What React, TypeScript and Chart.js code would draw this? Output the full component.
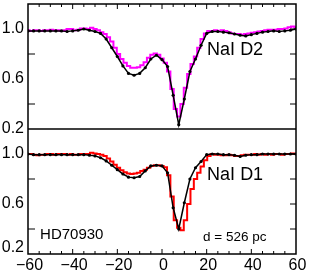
import React, { useEffect, useRef } from 'react';
import { Chart, registerables } from 'chart.js';

Chart.register(...registerables);

const FONT = '"Liberation Sans", Arial, Helvetica, sans-serif';

// Velocity grids (km/s)
const VEL_OBS = Array.from({ length: 81 }, (_, i) => -60 + 1.5 * i);
const VEL_FIT = Array.from({ length: 49 }, (_, i) => -60 + 2.5 * i);

// NaI D2 (top panel)
const D2_OBS = [
  0.99, 0.985, 0.99, 0.99, 0.985, 0.99, 0.99, 0.995, 0.99, 0.99,
  0.985, 0.99, 1.0, 1.0, 0.99, 0.995, 1.005, 1.005, 1.0, 1.01,
  1.0, 0.99, 0.975, 0.96, 0.935, 0.9, 0.85, 0.8, 0.76, 0.73,
  0.705, 0.69, 0.69, 0.695, 0.71, 0.735, 0.77, 0.795, 0.805, 0.795,
  0.765, 0.73, 0.66, 0.52, 0.36, 0.3, 0.4, 0.53, 0.64, 0.72,
  0.78, 0.85, 0.92, 0.965, 0.985, 0.985, 0.99, 0.985, 0.99, 0.985,
  0.975, 0.965, 0.96, 0.96, 0.955, 0.96, 0.965, 0.97, 0.975, 0.98,
  0.985, 0.99, 0.995, 0.995, 0.995, 1.0, 1.0, 1.005, 1.015, 1.02,
  1.015,
];
const D2_FIT = [
  0.985, 0.985, 0.985, 0.985, 0.985, 0.985, 0.985, 0.98, 0.985, 0.99,
  1.0, 0.99, 0.98, 0.965, 0.92, 0.85, 0.78, 0.705, 0.645, 0.63,
  0.645, 0.69, 0.76, 0.79, 0.755, 0.7, 0.47, 0.235, 0.44, 0.66,
  0.76, 0.87, 0.965, 0.98, 0.98, 0.975, 0.97, 0.96, 0.95, 0.945,
  0.955, 0.965, 0.975, 0.98, 0.985, 0.98, 0.985, 0.99, 1.0,
];

// NaI D1 (bottom panel)
const D1_OBS = [
  1.0, 1.0, 0.995, 0.99, 0.995, 0.995, 1.0, 1.0, 0.995, 1.0,
  1.0, 1.0, 0.995, 1.0, 0.995, 0.995, 1.0, 1.0, 1.0, 1.01,
  1.005, 1.0, 0.995, 0.985, 0.965, 0.94, 0.915, 0.89, 0.87, 0.855,
  0.845, 0.84, 0.845, 0.85, 0.865, 0.875, 0.89, 0.905, 0.91, 0.91,
  0.905, 0.895, 0.83, 0.66, 0.47, 0.41, 0.39, 0.47, 0.6, 0.72,
  0.8, 0.85, 0.9, 0.95, 0.985, 1.0, 0.995, 0.995, 0.99, 0.99,
  0.995, 0.99, 0.985, 0.985, 0.99, 0.995, 0.995, 0.995, 1.0, 0.995,
  1.0, 0.995, 1.0, 0.995, 1.0, 1.0, 0.995, 1.0, 1.0, 1.005,
  1.0,
];
const D1_FIT = [
  1.0, 0.995, 0.995, 0.995, 0.995, 0.995, 0.995, 0.995, 0.995, 0.995,
  0.995, 0.99, 0.985, 0.97, 0.945, 0.91, 0.875, 0.84, 0.815, 0.81,
  0.82, 0.865, 0.905, 0.91, 0.905, 0.85, 0.57, 0.4, 0.61, 0.8,
  0.89, 0.94, 0.995, 1.0, 1.0, 0.995, 0.995, 0.99, 0.98, 0.99,
  0.995, 0.995, 1.0, 1.0, 1.0, 1.0, 1.0, 1.0, 1.0,
];

const X_LABELS = [-60, -40, -20, 0, 20, 40, 60];
const Y_LABELS_TOP = [1.0, 0.6, 0.2];
const Y_LABELS_BOTTOM = [1.0, 0.6];
const Y_TICKS_RIGHT = [0.4, 0.6, 0.8, 1.0];
const Y_TICKS_LEFT = [0.4, 0.8];

const near = (a: number, list: number[]) => list.some((b) => Math.abs(a - b) < 1e-6);
const pts = (xs: number[], ys: number[]) => xs.map((x, i) => ({ x, y: ys[i] }));

const framePlugin = {
  id: 'frame',
  afterDraw(chart: any) {
    const { ctx, chartArea: a, scales } = chart;
    const x = scales.x;
    const yb = scales.y;
    const yt = scales.y2;
    const div = Math.max(yb.top, yt.top);
    const line = (x1: number, y1: number, x2: number, y2: number) => {
      ctx.beginPath();
      ctx.moveTo(x1, y1);
      ctx.lineTo(x2, y2);
      ctx.stroke();
    };
    ctx.save();
    ctx.strokeStyle = '#000';
    ctx.lineWidth = 1.5;
    ctx.strokeRect(a.left, a.top, a.right - a.left, a.bottom - a.top);
    line(a.left, div, a.right, div);
    ctx.lineWidth = 1;
    for (const s of [yb, yt]) {
      for (const v of Y_TICKS_RIGHT) {
        const py = s.getPixelForValue(v);
        line(a.right - 6, py, a.right, py);
      }
      for (const v of Y_TICKS_LEFT) {
        const py = s.getPixelForValue(v);
        line(a.left, py, a.left + 7, py);
      }
    }
    for (let v = -55; v < 60; v += 5) {
      const px = x.getPixelForValue(v);
      const len = v % 20 === 0 ? 5 : 3;
      line(px, a.top, px, a.top + len);
      line(px, a.bottom - len, px, a.bottom);
    }
    ctx.fillStyle = '#000';
    ctx.textBaseline = 'middle';
    ctx.textAlign = 'left';
    ctx.font = `18px ${FONT}`;
    ctx.fillText('NaI D2', x.getPixelForValue(20.2), yt.getPixelForValue(0.83));
    ctx.fillText('NaI D1', x.getPixelForValue(20.2), yb.getPixelForValue(0.832));
    ctx.font = `15px ${FONT}`;
    ctx.fillText('HD70930', x.getPixelForValue(-54.6), yb.getPixelForValue(0.352));
    ctx.font = `13.5px ${FONT}`;
    ctx.fillText('d = 526 pc', x.getPixelForValue(18.4), yb.getPixelForValue(0.336));
    ctx.font = `16px ${FONT}`;
    ctx.textAlign = 'right';
    ctx.fillText('0.2', a.left - 4, yb.getPixelForValue(0.2) - 6);
    ctx.restore();
  },
};

const zeroPad = (s: any) => {
  s.paddingTop = 0;
  s.paddingBottom = 0;
  s.paddingLeft = 0;
  s.paddingRight = 0;
};

export default function App() {
  const ref = useRef<HTMLCanvasElement>(null);
  useEffect(() => {
    const canvas = ref.current;
    if (!canvas) return;
    const yAxis = (labels: number[]) => ({
      type: 'linear' as const,
      position: 'left' as const,
      stack: 'panels',
      stackWeight: 1,
      min: 0.2,
      max: 1.2,
      grid: { display: false, drawTicks: false },
      border: { display: false },
      ticks: {
        stepSize: 0.2,
        autoSkip: false,
        padding: 4,
        color: '#000',
        font: { family: FONT, size: 16 },
        callback: (v: any) => (near(Number(v), labels) ? Number(v).toFixed(1) : ''),
      },
      afterFit: (s: any) => {
        s.width = 28;
        zeroPad(s);
      },
    });
    const chart = new Chart(canvas, {
      type: 'scatter',
      data: {
        datasets: [
          {
            label: 'D2 fit',
            data: pts(VEL_FIT, D2_FIT),
            yAxisID: 'y2',
            showLine: true,
            borderColor: '#000',
            backgroundColor: '#000',
            borderWidth: 1.5,
            pointRadius: 1.6,
            pointBorderWidth: 0,
            order: 0,
          },
          {
            label: 'D2 obs',
            data: pts(VEL_OBS, D2_OBS),
            yAxisID: 'y2',
            showLine: true,
            stepped: 'middle',
            borderColor: '#ff00ff',
            borderWidth: 2,
            pointRadius: 0,
            order: 1,
          },
          {
            label: 'D1 fit',
            data: pts(VEL_FIT, D1_FIT),
            yAxisID: 'y',
            showLine: true,
            borderColor: '#000',
            backgroundColor: '#000',
            borderWidth: 1.5,
            pointRadius: 1.6,
            pointBorderWidth: 0,
            order: 0,
          },
          {
            label: 'D1 obs',
            data: pts(VEL_OBS, D1_OBS),
            yAxisID: 'y',
            showLine: true,
            stepped: 'middle',
            borderColor: '#ff0000',
            borderWidth: 2,
            pointRadius: 0,
            order: 1,
          },
        ],
      } as any,
      options: {
        animation: false,
        responsive: false,
        maintainAspectRatio: false,
        layout: { padding: { left: 0, right: 15, top: 4, bottom: 0 } },
        plugins: { legend: { display: false }, tooltip: { enabled: false } },
        scales: {
          x: {
            type: 'linear',
            position: 'bottom',
            min: -60,
            max: 60,
            grid: { display: false, drawTicks: false },
            border: { display: false },
            afterBuildTicks: (s: any) => {
              s.ticks = X_LABELS.map((v) => ({ value: v }));
            },
            ticks: {
              autoSkip: false,
              maxRotation: 0,
              padding: 2,
              labelOffset: 1.5,
              color: '#000',
              font: { family: FONT, size: 16 },
              callback: (v: any) => (Number(v) < 0 ? '\u2212' + Math.abs(Number(v)) : String(v)),
            },
            afterFit: (s: any) => {
              s.height = 19;
              zeroPad(s);
            },
          },
          y: yAxis(Y_LABELS_BOTTOM),
          y2: yAxis(Y_LABELS_TOP),
        } as any,
      },
      plugins: [framePlugin],
    });
    return () => chart.destroy();
  }, []);
  return (
    <div style={{ position: 'absolute', left: 0, top: 0, width: 311, height: 273, background: '#fff' }}>
      <canvas ref={ref} width={311} height={273} style={{ display: 'block' }} />
    </div>
  );
}
